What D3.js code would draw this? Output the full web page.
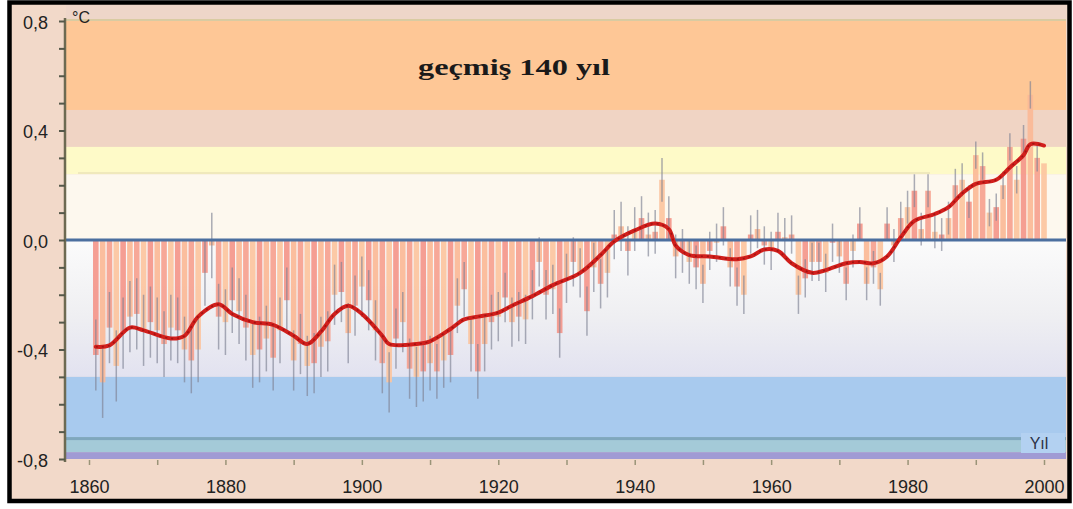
<!DOCTYPE html>
<html>
<head>
<meta charset="utf-8">
<script src="https://cdn.jsdelivr.net/npm/d3@7"></script>
<style>
  html, body { margin: 0; padding: 0; background: #ffffff; }
  svg { display: block; }
</style>
</head>
<body>
<svg id="chart" width="1073" height="509"></svg>
<script>
// Annual global surface temperature anomalies (°C), 1861–2000
const years = d3.range(1861, 2001);
const anomalies = [
  -0.42, -0.52, -0.32, -0.46, -0.34, -0.28, -0.27, -0.33, -0.30, -0.33, // 1861-1870
  -0.38, -0.32, -0.33, -0.40, -0.44, -0.40, -0.12, -0.02, -0.28, -0.30, // 1871-1880
  -0.22, -0.26, -0.32, -0.42, -0.40, -0.36, -0.43, -0.33, -0.22, -0.44, // 1881-1890
  -0.38, -0.46, -0.45, -0.39, -0.37, -0.20, -0.19, -0.34, -0.24, -0.17, // 1891-1900
  -0.22, -0.33, -0.45, -0.52, -0.36, -0.30, -0.47, -0.50, -0.48, -0.45, // 1901-1910
  -0.48, -0.44, -0.42, -0.24, -0.18, -0.38, -0.48, -0.38, -0.30, -0.28, // 1911-1920
  -0.21, -0.30, -0.28, -0.29, -0.20, -0.08, -0.20, -0.18, -0.34, -0.14, // 1921-1930
  -0.08, -0.12, -0.26, -0.10, -0.16, -0.12,  0.02,  0.05, -0.04,  0.04, // 1931-1940
   0.08,  0.02,  0.03,  0.22,  0.08, -0.06, -0.04, -0.08, -0.10, -0.16, // 1941-1950
  -0.04, -0.01,  0.05, -0.10, -0.17, -0.20,  0.02,  0.04, -0.02, -0.04, // 1951-1960
   0.03,  0.01,  0.02, -0.20, -0.14, -0.08, -0.08, -0.12, -0.01, -0.06, // 1961-1970
  -0.16, -0.04,  0.06, -0.16, -0.10, -0.18,  0.06, -0.02,  0.08,  0.12, // 1971-1980
   0.18,  0.04,  0.18,  0.03,  0.02,  0.08,  0.20,  0.22,  0.14,  0.31, // 1981-1990
   0.27,  0.10,  0.12,  0.20,  0.34,  0.22,  0.37,  0.53,  0.30,  0.28  // 1991-2000
];

// Half-width of the uncertainty range for each decade (1860s … 1990s)
const decades = d3.range(1860, 2000, 10);
const uncertainty = [0.13, 0.12, 0.12, 0.11, 0.11, 0.10, 0.09, 0.09, 0.08, 0.07, 0.07, 0.06, 0.06, 0.05];

// Decadal-scale smoothed curve
const smoothYears  = [1861, 1863, 1866, 1868, 1872, 1874, 1876, 1879, 1881, 1884, 1887, 1890, 1892, 1894,
                      1896, 1898, 1900, 1903, 1904, 1908, 1910, 1913, 1915, 1917, 1920, 1922, 1925, 1928,
                      1932, 1935, 1937, 1940, 1943, 1945, 1946, 1948, 1951, 1955, 1957, 1959, 1961, 1963,
                      1966, 1968, 1971, 1973, 1975, 1977, 1979, 1981, 1984, 1986, 1988, 1990, 1993, 1995,
                      1997, 1998, 2000];
const smoothValues = [-0.39, -0.385, -0.32, -0.33, -0.36, -0.35, -0.28, -0.235, -0.27, -0.30, -0.31, -0.35, -0.38, -0.335,
                      -0.27, -0.24, -0.27, -0.35, -0.38, -0.38, -0.37, -0.325, -0.29, -0.28, -0.265, -0.24, -0.205, -0.165,
                      -0.12, -0.055, -0.005, 0.035, 0.06, 0.04, -0.02, -0.055, -0.06, -0.07, -0.06, -0.035, -0.04, -0.085,
                      -0.12, -0.11, -0.085, -0.08, -0.085, -0.06, 0.01, 0.07, 0.095, 0.12, 0.17, 0.205, 0.22, 0.265,
                      0.31, 0.35, 0.345];

// Background band edges (°C) from top to bottom
const bandEdges = [0.8, 0.475, 0.34, 0.24, 0.0, -0.5, -0.72, -0.775, -0.8];

const yTicks = d3.range(-8, 9).map(v => v / 10);
const yLabelTicks = [-0.8, -0.4, 0, 0.4, 0.8];
const xTicks = d3.range(1860, 2001, 10);
const xLabelTicks = d3.range(1860, 2001, 20);

const titleText = "geçmiş 140 yıl";
const unitText = "°C";
const xAxisName = "Yıl";

// ---------------------------------------------------------------
const svg = d3.select("#chart");
const W = 1073, H = 509;
const plotLeft = 66, plotRight = 1066;

const x = d3.scaleLinear().domain([1860, 2000]).range([89, 1044]);
const y = d3.scaleLinear().domain([-0.8, 0.8]).range([459, 21]);

const fmt = d3.formatLocale({ decimal: ",", thousands: ".", grouping: [3], currency: ["", ""], minus: "-" }).format(".1f");

// frame background
svg.append("rect").attr("x", 0).attr("y", 0).attr("width", W).attr("height", H).attr("fill", "#ffffff");
svg.append("rect").attr("x", 9).attr("y", 2).attr("width", 1061).attr("height", 499).attr("fill", "#f2d9c9");

const defs = svg.append("defs");
const gBelow = defs.append("linearGradient").attr("id", "belowZero").attr("x1", 0).attr("x2", 0).attr("y1", 0).attr("y2", 1);
gBelow.append("stop").attr("offset", "0%").attr("stop-color", "#fbfbfb");
gBelow.append("stop").attr("offset", "55%").attr("stop-color", "#efeff2");
gBelow.append("stop").attr("offset", "100%").attr("stop-color", "#e2e2f0");

const bandFills = ["#fec796", "#f0d4c4", "#fefac8", "#fdf8ee", "url(#belowZero)", "#a8caee", "#a4cad8", "#a09bd4"];

// strip above the top band
svg.append("rect").attr("x", plotLeft).attr("y", 5).attr("width", plotRight - plotLeft).attr("height", y(0.8) - 5)
  .attr("fill", "#eed6c9");
svg.append("line").attr("x1", plotLeft).attr("x2", plotRight).attr("y1", y(0.8) - 1).attr("y2", y(0.8) - 1)
  .attr("stroke", "#d9cba2").attr("stroke-width", 2);

svg.append("g").selectAll("rect")
  .data(d3.pairs(bandEdges))
  .join("rect")
  .attr("x", plotLeft)
  .attr("width", plotRight - plotLeft)
  .attr("y", d => y(d[0]))
  .attr("height", d => y(d[1]) - y(d[0]))
  .attr("fill", (d, i) => bandFills[i]);

// darker seam at the top of the teal stripe
svg.append("rect").attr("x", plotLeft).attr("width", plotRight - plotLeft)
  .attr("y", y(-0.72)).attr("height", 3).attr("fill", "#7fa7bd");
// faint rule inside the pale yellow band
svg.append("line").attr("x1", 78).attr("x2", 930).attr("y1", 173).attr("y2", 173)
  .attr("stroke", "#ebe3b8").attr("stroke-width", 1.5);

// title
svg.append("text")
  .attr("x", 418).attr("y", 75)
  .attr("textLength", 192).attr("lengthAdjust", "spacingAndGlyphs")
  .style("font-family", "'Liberation Serif', 'Times New Roman', serif")
  .style("font-weight", "bold").style("font-size", "24px").attr("fill", "#1a1a1a")
  .text(titleText);

// annual bars
const bw = 5.6;
const barColors = ["#f4968a", "#fbb996", "#f6a18f", "#fcc49e"];
const data = years.map((yr, i) => ({ year: yr, value: anomalies[i], err: uncertainty[decades.indexOf(Math.floor(yr / 10) * 10)] }));

svg.append("g").selectAll("rect")
  .data(data)
  .join("rect")
  .attr("x", d => x(d.year) - bw / 2)
  .attr("width", bw)
  .attr("y", d => y(Math.max(0, d.value)))
  .attr("height", d => Math.abs(y(d.value) - y(0)))
  .attr("fill", (d, i) => barColors[i % barColors.length])
  .attr("opacity", 0.92);

// uncertainty whiskers
svg.append("g").selectAll("line")
  .data(data)
  .join("line")
  .attr("x1", d => x(d.year)).attr("x2", d => x(d.year))
  .attr("y1", d => y(d.value + d.err))
  .attr("y2", d => y(d.value - d.err))
  .attr("stroke", "#7f8395").attr("stroke-width", 1.5).attr("opacity", 0.65);

// zero line
svg.append("line").attr("x1", plotLeft).attr("x2", plotRight).attr("y1", y(0)).attr("y2", y(0))
  .attr("stroke", "#4b6f9f").attr("stroke-width", 3);

// smoothed curve
const smooth = smoothYears.map((yr, i) => [yr, smoothValues[i]]);
const line = d3.line().x(d => x(d[0])).y(d => y(d[1])).curve(d3.curveCatmullRom.alpha(0.5));
svg.append("path").attr("d", line(smooth)).attr("fill", "none")
  .attr("stroke", "#d11f1c").attr("stroke-width", 4).attr("stroke-linejoin", "round").attr("stroke-linecap", "round");
svg.append("path").attr("d", line(smooth)).attr("fill", "none")
  .attr("stroke", "#8e1010").attr("stroke-width", 1.6).attr("stroke-dasharray", "2 4").attr("opacity", 0.7);

// y axis
const yAxis = d3.axisLeft(y).tickValues(yTicks).tickSize(6).tickPadding(11)
  .tickFormat(d => yLabelTicks.some(v => Math.abs(v - d) < 1e-9) ? fmt(d) : "");
const gy = svg.append("g").attr("transform", `translate(${plotLeft - 1},0)`).call(yAxis);
gy.select(".domain").attr("stroke", "#6d6a52").attr("stroke-width", 2.5)
  .attr("d", `M0,${y(0.8) - 3}V${y(-0.8) + 3}`);
gy.selectAll(".tick line").attr("stroke", "#55584a").attr("stroke-width", 2);
gy.selectAll(".tick text")
  .style("font-family", "'Liberation Sans', Arial, sans-serif").style("font-size", "18px")
  .attr("fill", "#222").attr("dy", "0.4em");

// unit label
svg.append("text").attr("x", 72).attr("y", 23)
  .style("font-family", "'Liberation Sans', Arial, sans-serif").style("font-size", "16px")
  .attr("fill", "#222").text(unitText);

// x axis
const xAxis = d3.axisBottom(x).tickValues(xTicks).tickSize(5).tickPadding(0)
  .tickFormat(d => xLabelTicks.includes(d) ? String(d) : "");
const gx = svg.append("g").attr("transform", `translate(0,${y(-0.8) + 1})`).call(xAxis);
gx.select(".domain").remove();
gx.selectAll(".tick line").attr("stroke", "#9a9478").attr("stroke-width", 1.5);
gx.selectAll(".tick text")
  .style("font-family", "'Liberation Sans', Arial, sans-serif").style("font-size", "18px")
  .attr("fill", "#222").attr("y", 33).attr("dy", 0);

// axis name box
svg.append("rect").attr("x", 1021).attr("y", 433).attr("width", 44).attr("height", 20).attr("fill", "#b3d1f1");
svg.append("text").attr("x", 1039).attr("y", 449).attr("text-anchor", "middle")
  .style("font-family", "'Liberation Sans', Arial, sans-serif").style("font-size", "16px")
  .attr("fill", "#2c3346").text(xAxisName);

// outer frame
svg.append("rect").attr("x", 9.5).attr("y", 2.5).attr("width", 1060).attr("height", 498.5)
  .attr("fill", "none").attr("stroke", "#000").attr("stroke-width", 4.5);
</script>
</body>
</html>
